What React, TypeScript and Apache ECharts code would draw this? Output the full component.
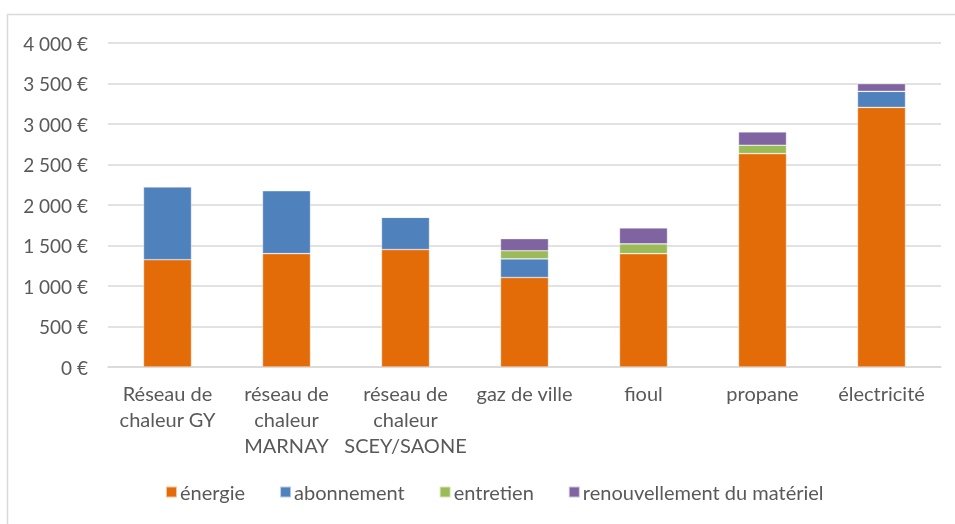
import React, { useEffect, useRef } from "react";
import * as echarts from "echarts";

const categories = [
  "Réseau de\nchaleur GY",
  "réseau de\nchaleur\nMARNAY",
  "réseau de\nchaleur\nSCEY/SAONE",
  "gaz de ville",
  "fioul",
  "propane",
  "électricité",
];
const energie = [1325, 1400, 1450, 1105, 1400, 2635, 3205];
const abonnement = [900, 778, 398, 230, 0, 0, 198];
const entretien = [0, 0, 0, 100, 120, 103, 0];
const renouvellement = [0, 0, 0, 150, 198, 165, 95];
const yTicks = { min: 0, max: 4000, interval: 500 };

const FONT = "Lato";
const TEXT = "#595959";

function fmt(v: number) {
  return String(v).replace(/\B(?=(\d{3})+(?!\d))/g, " ") + " €";
}

export default function App() {
  const ref = useRef<HTMLDivElement>(null);
  useEffect(() => {
    if (!ref.current) return;
    const chart = echarts.init(ref.current, undefined, { renderer: "svg" });
    const mk = (name: string, data: number[], color: string) => ({
      name,
      type: "bar",
      stack: "total",
      data,
      barWidth: 48,
      itemStyle: { color, borderColor: "rgba(255,255,255,0.6)", borderWidth: 0.6 },
    });
    chart.setOption({
      animation: false,
      textStyle: { fontFamily: FONT },
      graphic: [
        {
          type: "polyline",
          shape: { points: [[7.5, 524], [7.5, 14.5], [955, 14.5]] },
          style: { stroke: "#d9d9d9", lineWidth: 1.5, fill: "none" },
          silent: true,
        },
      ],
      grid: { left: 108, right: 14, top: 43, bottom: 157, containLabel: false },
      legend: {
        bottom: 17,
        left: 160,
        itemWidth: 11,
        itemHeight: 11,
        itemGap: 34,
        icon: "rect",
        textStyle: { color: TEXT, fontSize: 20, fontFamily: FONT, padding: [0, 0, 0, -2] },
        data: ["énergie", "abonnement", "entretien", "renouvellement du matériel"],
      },
      xAxis: {
        type: "category",
        data: categories,
        axisLine: { lineStyle: { color: "#d9d9d9", width: 1.5 } },
        axisTick: { show: false },
        axisLabel: {
          color: TEXT,
          fontSize: 20,
          fontFamily: FONT,
          lineHeight: 26,
          margin: 13,
          interval: 0,
          align: "center",
        },
      },
      yAxis: {
        type: "value",
        min: yTicks.min,
        max: yTicks.max,
        interval: yTicks.interval,
        axisLine: { show: false },
        axisTick: { show: false },
        splitLine: { lineStyle: { color: "#d9d9d9", width: 1.5 } },
        axisLabel: {
          color: TEXT,
          fontSize: 19,
          fontFamily: FONT,
          margin: 20,
          formatter: (v: number) => fmt(v),
        },
      },
      series: [
        mk("énergie", energie, "#E36C09"),
        mk("abonnement", abonnement, "#4F81BD"),
        mk("entretien", entretien, "#9BBB59"),
        mk("renouvellement du matériel", renouvellement, "#8064A2"),
      ],
    });
    return () => chart.dispose();
  }, []);
  return (
    <div
      ref={ref}
      style={{ position: "fixed", left: 0, top: 0, width: 955, height: 524 }}
    />
  );
}
